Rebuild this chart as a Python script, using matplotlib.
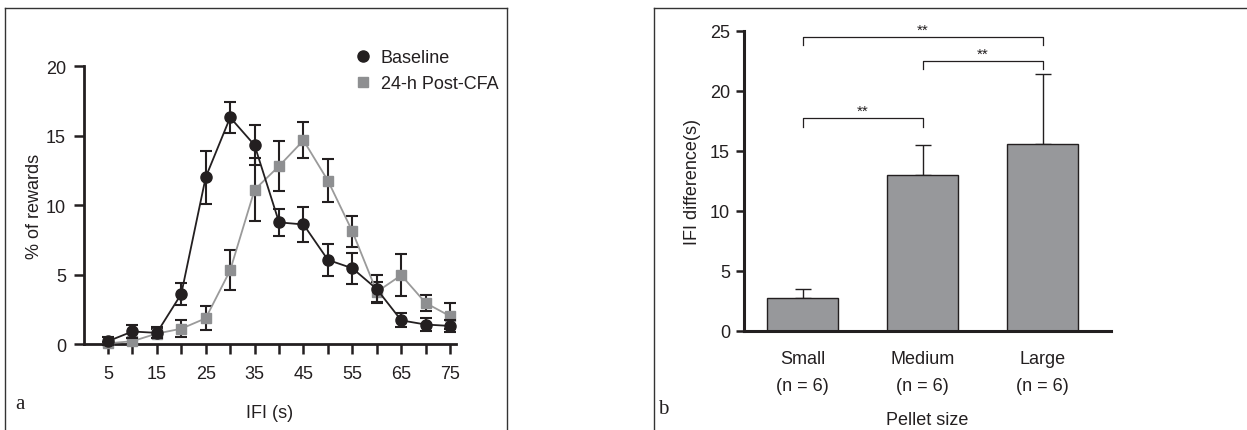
import matplotlib
matplotlib.use("Agg")
import matplotlib.pyplot as plt
from matplotlib.lines import Line2D

plt.rcParams['font.family'] = ['Liberation Sans', 'DejaVu Sans']

# ---- Panel a data ----
ifi = [5, 10, 15, 20, 25, 30, 35, 40, 45, 50, 55, 60, 65, 70, 75]
baseline = [0.2, 0.9, 0.8, 3.6, 12.0, 16.3, 14.3, 8.75, 8.6, 6.05, 5.45, 3.95, 1.7, 1.4, 1.3]
baseline_err = [0.3, 0.45, 0.4, 0.8, 1.9, 1.1, 1.45, 0.95, 1.25, 1.15, 1.1, 1.0, 0.5, 0.45, 0.45]
postcfa = [0.05, 0.2, 0.75, 1.1, 1.85, 5.3, 11.1, 12.8, 14.65, 11.75, 8.1, 3.75, 4.95, 2.95, 2.0]
postcfa_err = [0.1, 0.2, 0.3, 0.6, 0.85, 1.45, 2.25, 1.8, 1.3, 1.55, 1.1, 0.7, 1.5, 0.55, 0.95]

# ---- Panel b data ----
sizes = ['Small\n(n = 6)', 'Medium\n(n = 6)', 'Large\n(n = 6)']
ifi_diff = [2.75, 13.0, 15.6]
ifi_diff_err = [0.75, 2.5, 5.8]
# brackets: (left index, right index, y level, tick drop, label)
brackets = [(0, 2, 24.5, 0.7, '**'), (1, 2, 22.5, 0.7, '**'), (0, 1, 17.75, 0.75, '**')]

W, H = 1247, 431
fig = plt.figure(figsize=(W / 100, H / 100), dpi=100)

dark = '#231f20'
gray_line = '#9a9a9a'
gray_sq = '#8e8f91'

# panel frames
fc = '#333333'
def fl(x0, y0, x1, y1):
    fig.add_artist(Line2D([x0 / W, x1 / W], [1 - y0 / H, 1 - y1 / H], color=fc, lw=1.0))
fl(5, 9, 507, 9); fl(5, 9, 5, 431); fl(507, 9, 507, 431)
fl(654, 9, 1247, 9); fl(654, 9, 654, 431)

# ---- Panel a ----
ax = fig.add_axes([84 / W, 1 - 345 / H, (456 - 84) / W, (345 - 67) / H])
ax.errorbar(ifi, baseline, yerr=baseline_err, color=dark, lw=1.3, marker='o', ms=8,
            mfc=dark, mec=dark, ecolor=dark, elinewidth=1.5, capsize=4, capthick=1.5,
            clip_on=False, zorder=4, label='Baseline')
ax.errorbar(ifi, postcfa, yerr=postcfa_err, color=gray_line, lw=1.3, marker='s', ms=6.5,
            mfc=gray_sq, mec=gray_sq, ecolor=dark, elinewidth=1.5, capsize=4, capthick=1.5,
            clip_on=False, zorder=3, label='24-h Post-CFA')
ax.set_xlim(0.1, 76.2)
ax.set_ylim(0, 20)
ax.set_xticks(ifi)
ax.set_xticklabels([str(v) if (i % 2 == 0) else '' for i, v in enumerate(ifi)])
ax.set_yticks([0, 5, 10, 15, 20])
for s in ['top', 'right']:
    ax.spines[s].set_visible(False)
for s in ['left', 'bottom']:
    ax.spines[s].set_linewidth(2)
    ax.spines[s].set_color(dark)
ax.tick_params(axis='both', direction='out', length=7, width=1.8, color=dark,
               labelsize=13, labelcolor=dark, pad=6)
ax.tick_params(axis='x', pad=8)
ax.set_ylabel('% of rewards', fontsize=13, color=dark)
ax.yaxis.set_label_coords(-0.11, 0.5)
ax.set_xlabel('IFI (s)', fontsize=13, color=dark, labelpad=16)
h = [Line2D([], [], marker='o', ls='none', ms=8, color=dark),
     Line2D([], [], marker='s', ls='none', ms=6.5, color=gray_sq)]
leg = ax.legend(h, ['Baseline', '24-h Post-CFA'], loc='upper left', frameon=False,
                fontsize=13, bbox_to_anchor=(0.72, 1.06), borderaxespad=0,
                borderpad=0, handletextpad=0.4, labelspacing=0.5, handlelength=1.2)
for t in leg.get_texts():
    t.set_color(dark)
fig.text(20 / W, 1 - 405 / H, 'a', family='Liberation Serif', fontsize=15,
         color=dark, va='center', ha='center')

# ---- Panel b ----
bx = fig.add_axes([744 / W, 1 - 332 / H, (1111 - 744) / W, (332 - 32) / H])
pos = list(range(len(sizes)))
bx.bar(pos, ifi_diff, width=0.59, color='#97989b', edgecolor=dark, lw=1.0, zorder=2)
bx.errorbar(pos, ifi_diff, yerr=[[0] * 3, ifi_diff_err], fmt='none', ecolor=dark,
            elinewidth=1.0, capsize=6, capthick=1.0, zorder=1)
bx.set_xlim(-0.4875, 2.57)
bx.set_ylim(0, 25)
bx.set_xticks(pos)
bx.set_xticklabels(sizes, linespacing=1.75)
bx.set_yticks([0, 5, 10, 15, 20, 25])
for s in ['top', 'right']:
    bx.spines[s].set_visible(False)
for s in ['left', 'bottom']:
    bx.spines[s].set_linewidth(2.2)
    bx.spines[s].set_color(dark)
bx.tick_params(axis='y', direction='out', length=6, width=1.8, color=dark,
               labelsize=13, labelcolor=dark, pad=4)
bx.tick_params(axis='x', length=0, labelsize=13, labelcolor=dark, pad=14)
bx.set_ylabel('IFI difference(s)', fontsize=13, color=dark)
bx.yaxis.set_label_coords(-0.118, 0.5)
bx.set_xlabel('Pellet size', fontsize=13, color=dark, labelpad=12)
for (i0, i1, yb, d, lab) in brackets:
    bx.plot([pos[i0], pos[i0], pos[i1], pos[i1]], [yb - d, yb, yb, yb - d],
            color=dark, lw=0.9, clip_on=False)
    bx.text((pos[i0] + pos[i1]) / 2, yb + 0.0, lab, ha='center', va='bottom',
            fontsize=11, color=dark, clip_on=False)
fig.text(663 / W, 1 - 410 / H, 'b', family='Liberation Serif', fontsize=15,
         color=dark, va='center', ha='center')

fig.savefig('out.png', dpi=100)
